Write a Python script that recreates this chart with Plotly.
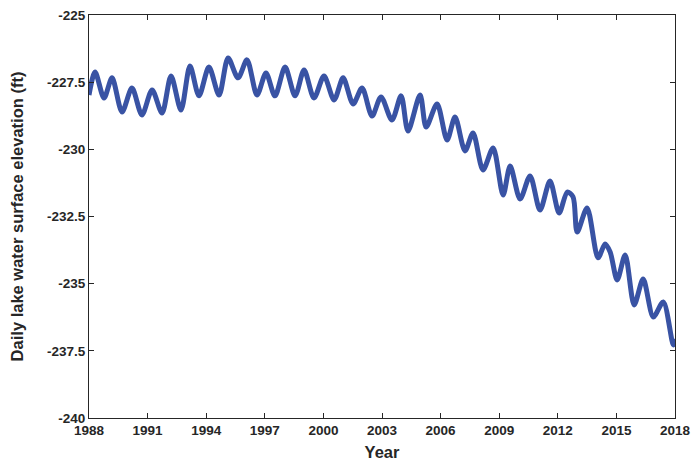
import plotly.graph_objects as go

# Readings (decimal year, elevation ft) at seasonal peaks/troughs
years = [1988.0, 1988.31, 1988.77, 1989.18, 1989.69, 1990.20, 1990.71, 1991.23, 1991.74,
         1992.20, 1992.71, 1993.17, 1993.63, 1994.14, 1994.66, 1995.12, 1995.63, 1996.09,
         1996.60, 1997.06, 1997.52, 1998.04, 1998.55, 1999.01, 1999.52, 2000.03, 2000.55,
         2001.01, 2001.52, 2001.98, 2002.49, 2002.95, 2003.51, 2003.98, 2004.33, 2004.95,
         2005.26, 2005.82, 2006.33, 2006.74, 2007.25, 2007.66, 2008.17, 2008.69, 2009.20,
         2009.56, 2010.07, 2010.58, 2011.09, 2011.60, 2012.07, 2012.48, 2012.78, 2012.99,
         2013.50, 2014.06, 2014.42, 2014.68, 2015.04, 2015.45, 2015.91, 2016.37, 2016.89,
         2017.40, 2017.91, 2018.0]
elev = [-227.98, -227.12, -228.09, -227.34, -228.61, -227.72, -228.72, -227.79, -228.65,
        -227.27, -228.54, -226.90, -228.01, -226.94, -227.98, -226.60, -227.34, -226.67,
        -227.98, -227.16, -228.01, -226.94, -228.01, -227.05, -228.09, -227.27, -228.16,
        -227.34, -228.31, -227.72, -228.76, -228.05, -228.91, -228.01, -229.32, -227.98,
        -229.17, -228.31, -229.65, -228.80, -230.06, -229.39, -230.77, -229.95, -231.70,
        -230.62, -231.85, -230.99, -232.26, -231.18, -232.37, -231.59, -231.77, -233.08,
        -232.18, -234.04, -233.52, -233.82, -234.86, -233.93, -235.79, -234.83, -236.24,
        -235.68, -237.28, -237.05]

y_ticks = [-240, -237.5, -235, -232.5, -230, -227.5, -225]
y_tick_text = ["-240", "-237.5", "-235", "-232.5", "-230", "-227.5", "-225"]
x_ticks = [1988, 1991, 1994, 1997, 2000, 2003, 2006, 2009, 2012, 2015, 2018]

font_family = "Liberation Sans, Arial, sans-serif"
axis_color = "#262626"

fig = go.Figure()
fig.add_trace(go.Scatter(
    x=years, y=elev, mode="lines",
    line=dict(color="#3953a4", width=5, shape="spline", smoothing=0.8),
    showlegend=False,
))

common = dict(
    showline=True, linecolor=axis_color, linewidth=1, mirror="allticks",
    ticks="inside", ticklen=5, tickcolor=axis_color, showgrid=False, zeroline=False,
    automargin=False, ticklabeloverflow="allow",
    tickfont=dict(family=font_family, size=13.5, color=axis_color, weight="bold"),
)

fig.update_layout(
    width=694, height=464,
    margin=dict(l=89, r=19, t=15, b=46),
    plot_bgcolor="white", paper_bgcolor="white",
    xaxis=dict(range=[1988, 2018], tickvals=x_ticks,
               title=dict(text="Year", standoff=9,
                          font=dict(family=font_family, size=16.5, color=axis_color, weight="bold")),
               **common),
    yaxis=dict(range=[-240, -225], tickvals=y_ticks, ticktext=y_tick_text,
               title=dict(text="Daily lake water surface elevation (ft)", standoff=19,
                          font=dict(family=font_family, size=16.5, color=axis_color, weight="bold")),
               **common),
)

fig.write_html("out.html", config={"displayModeBar": False},
               post_script="document.body.style.margin='0';document.body.style.padding='0';")
